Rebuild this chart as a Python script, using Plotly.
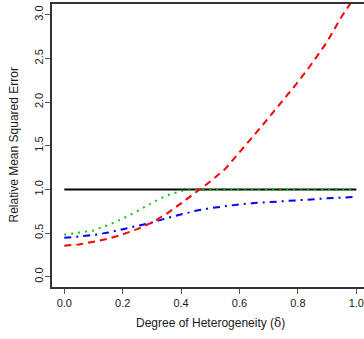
import plotly.graph_objects as go

delta = [0.0, 0.05, 0.1, 0.15, 0.2, 0.25, 0.3, 0.35, 0.4, 0.45, 0.5,
         0.55, 0.6, 0.65, 0.7, 0.75, 0.8, 0.85, 0.9, 0.95, 1.0]
red_mse = [0.355, 0.37, 0.40, 0.435, 0.485, 0.545, 0.62, 0.72, 0.84, 0.96, 1.09,
           1.23, 1.42, 1.62, 1.82, 2.02, 2.23, 2.45, 2.69, 2.98, 3.23]
blue_mse = [0.445, 0.458, 0.477, 0.505, 0.545, 0.58, 0.62, 0.67, 0.715, 0.755, 0.785,
            0.808, 0.828, 0.843, 0.855, 0.866, 0.878, 0.888, 0.897, 0.906, 0.915]
green_mse = [0.48, 0.505, 0.53, 0.59, 0.665, 0.75, 0.845, 0.93, 0.98, 1.0, 1.0,
             1.0, 1.0, 1.0, 1.0, 1.0, 1.0, 1.0, 1.0, 1.0, 1.0]
ref_x = [0.0, 1.0]
ref_y = [1.0, 1.0]

x_ticks = [0.0, 0.2, 0.4, 0.6, 0.8, 1.0]
y_ticks = [0.0, 0.5, 1.0, 1.5, 2.0, 2.5, 3.0]
x_title = "Degree of Heterogeneity (<span style='font-family:DejaVu Serif'>δ</span>)"
y_title = "Relative Mean Squared Error"

fig = go.Figure()
fig.add_trace(go.Scatter(x=ref_x, y=ref_y, mode="lines",
                         line=dict(color="black", width=2)))
fig.add_trace(go.Scatter(x=delta, y=blue_mse, mode="lines",
                         line=dict(color="#0000FF", width=2, dash="7px,5px,2px,5px")))
fig.add_trace(go.Scatter(x=delta, y=red_mse, mode="lines",
                         line=dict(color="#FF0000", width=2, dash="7px,5px")))
fig.add_trace(go.Scatter(x=delta, y=green_mse, mode="lines",
                         line=dict(color="#00CD00", width=2, dash="2px,5px")))

font = "Liberation Sans, Arial, sans-serif"
fig.update_layout(
    width=364, height=339,
    margin=dict(l=52, r=0, t=4, b=52),
    paper_bgcolor="white", plot_bgcolor="white",
    showlegend=False,
    font=dict(family=font, size=11, color="#1a1a1a"),
    xaxis=dict(range=[-0.0421, 1.0264], tickvals=x_ticks, tickformat=".1f",
               showgrid=False, zeroline=False, showline=True, mirror=True,
               linecolor="#333333", linewidth=1.5,
               ticks="outside", ticklen=5, tickwidth=1, tickcolor="#555555",
               tickfont=dict(size=11)),
    yaxis=dict(range=[-0.118, 3.123], tickvals=y_ticks, tickformat=".1f",
               showgrid=False, zeroline=False, showline=True, mirror=False,
               linecolor="#333333", linewidth=1.5,
               ticks="outside", ticklen=5, tickwidth=1, tickcolor="#555555",
               tickangle=-90, tickfont=dict(size=11), ticklabelstandoff=-2),
    annotations=[
        dict(text=x_title, x=0.5, xref="x", y=-0.127, yref="paper",
             xanchor="center", yanchor="middle", showarrow=False,
             font=dict(size=12, family=font, color="#1a1a1a")),
        dict(text=y_title, x=-0.125, xref="paper", y=0.5, yref="paper",
             xanchor="center", yanchor="middle", textangle=-90, showarrow=False,
             font=dict(size=12, family=font, color="#1a1a1a")),
    ],
)

fig.write_html("out.html",
               config={"displayModeBar": False},
               post_script="document.body.style.margin='0';document.body.style.overflow='hidden';")
